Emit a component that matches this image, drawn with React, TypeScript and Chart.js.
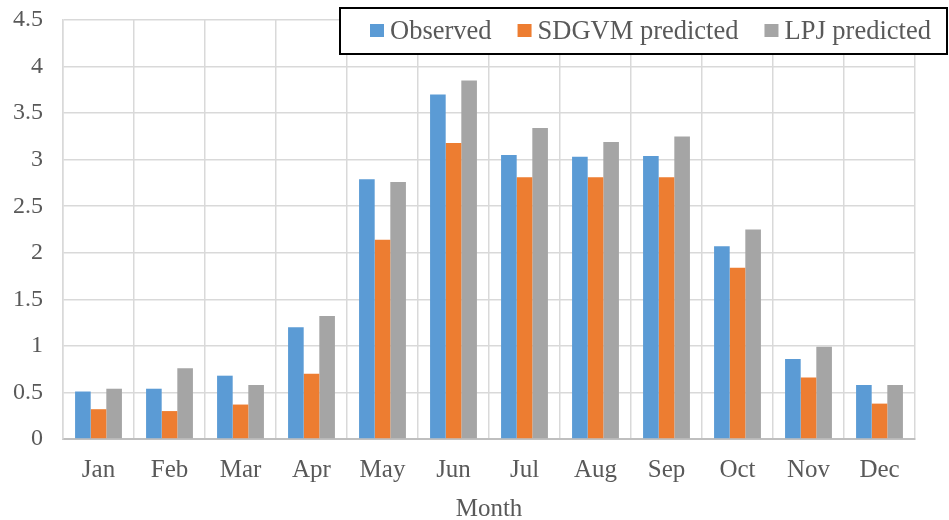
import React, { useEffect, useRef } from "react";
import { Chart, registerables } from "chart.js";

Chart.register(...registerables);

const months = ["Jan", "Feb", "Mar", "Apr", "May", "Jun", "Jul", "Aug", "Sep", "Oct", "Nov", "Dec"];
const observed = [0.51, 0.54, 0.68, 1.2, 2.79, 3.7, 3.05, 3.03, 3.04, 2.07, 0.86, 0.58];
const sdgvm = [0.32, 0.3, 0.37, 0.7, 2.14, 3.18, 2.81, 2.81, 2.81, 1.84, 0.66, 0.38];
const lpj = [0.54, 0.76, 0.58, 1.32, 2.76, 3.85, 3.34, 3.19, 3.25, 2.25, 0.99, 0.58];
const seriesNames = ["Observed", "SDGVM predicted", "LPJ predicted"];
const seriesColors = ["#5B9BD5", "#ED7D31", "#A5A5A5"];
const xTitle = "Month";

const FONT = "'Liberation Serif', 'Times New Roman', serif";
const TEXT = "#595959";

const boxLegend = {
  id: "boxLegend",
  afterDraw(chart: any) {
    const ctx = chart.ctx;
    const x0 = 340, y0 = 8, x1 = 947, y1 = 54;
    ctx.save();
    ctx.fillStyle = "#ffffff";
    ctx.fillRect(x0, y0, x1 - x0, y1 - y0);
    ctx.strokeStyle = "#000000";
    ctx.lineWidth = 2;
    ctx.strokeRect(x0, y0, x1 - x0, y1 - y0);
    ctx.font = `26.5px ${FONT}`;
    ctx.textBaseline = "middle";
    ctx.textAlign = "left";
    const cy = (y0 + y1) / 2;
    let x = 370;
    chart.data.datasets.forEach((ds: any) => {
      ctx.fillStyle = ds.backgroundColor;
      ctx.fillRect(x, cy - 7, 14, 13);
      ctx.fillStyle = TEXT;
      ctx.fillText(ds.label, x + 20, cy + 1);
      const w = ctx.measureText(ds.label).width;
      x += 20 + w + 26;
    });
    ctx.restore();
  },
};

export default function App() {
  const ref = useRef<HTMLCanvasElement>(null);
  useEffect(() => {
    document.body.style.margin = "0";
    const chart = new Chart(ref.current!, {
      type: "bar",
      data: {
        labels: months,
        datasets: [observed, sdgvm, lpj].map((d, i) => ({
          label: seriesNames[i],
          data: d,
          backgroundColor: seriesColors[i],
          borderWidth: 0,
          categoryPercentage: 0.66,
          barPercentage: 1,
        })),
      },
      options: {
        animation: false,
        responsive: false,
        maintainAspectRatio: false,
        layout: { padding: { top: 0, right: 34, left: 0, bottom: 0 } },
        plugins: { legend: { display: false }, tooltip: { enabled: false } },
        scales: {
          x: {
            grid: { color: "#d9d9d9", lineWidth: 1.5, drawTicks: false, offset: true },
            border: { color: "#bfbfbf", width: 2 },
            ticks: { color: TEXT, font: { family: FONT, size: 25 }, padding: 16 },
            title: {
              display: true,
              text: xTitle,
              color: TEXT,
              font: { family: FONT, size: 25, lineHeight: 1 },
              padding: { top: 0, bottom: -2 },
            },
            afterFit(scale: any) {
              scale.height = 81;
            },
          },
          y: {
            min: 0,
            max: 4.5,
            ticks: {
              stepSize: 0.5,
              color: TEXT,
              font: { family: FONT, size: 24, lineHeight: 0 },
              padding: 20,
              callback: (v: any) => String(v),
            },
            grid: { color: "#d9d9d9", lineWidth: 1.5, drawTicks: false },
            border: { color: "#d9d9d9", width: 1.5 },
            afterFit(scale: any) {
              scale.width = 63;
            },
          },
        },
      },
      plugins: [boxLegend],
    });
    return () => chart.destroy();
  }, []);
  return (
    <div style={{ position: "absolute", left: 0, top: 0, width: 949, height: 520 }}>
      <canvas ref={ref} width={949} height={520} style={{ width: 949, height: 520 }} />
    </div>
  );
}
